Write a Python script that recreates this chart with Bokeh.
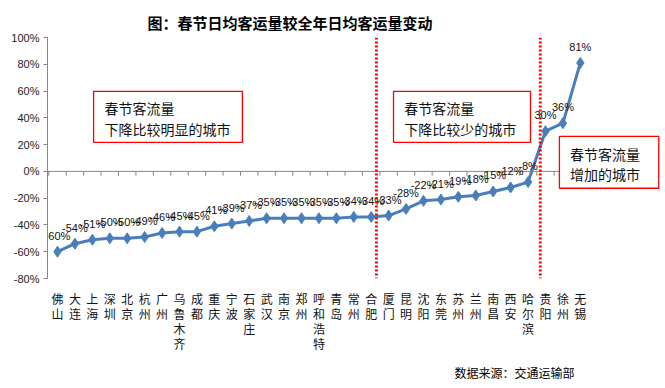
from bokeh.plotting import figure
from bokeh.models import (Range1d, FixedTicker, PrintfTickFormatter, Span, Title,
                          ColumnDataSource)
from bokeh.core.properties import value
from bokeh.embed import file_html
from bokeh.resources import INLINE

cities = ["佛山", "大连", "上海", "深圳", "北京", "杭州", "广州", "乌鲁木齐", "成都", "重庆",
          "宁波", "石家庄", "武汉", "南京", "郑州", "呼和浩特", "青岛", "常州", "合肥", "厦门",
          "昆明", "沈阳", "东莞", "苏州", "兰州", "南昌", "西安", "哈尔滨", "贵阳", "徐州", "无锡"]
changes = [-60, -54, -51, -50, -50, -49, -46, -45, -45, -41, -39, -37, -35, -35, -35, -35,
           -35, -34, -34, -33, -28, -22, -21, -19, -18, -15, -12, -8, 30, 36, 81]
y_ticks = [-80, -60, -40, -20, 0, 20, 40, 60, 80, 100]
title_text = "图：春节日均客运量较全年日均客运量变动"
source_text = "数据来源：交通运输部"
box_texts = [["春节客流量", "下降比较明显的城市"],
             ["春节客流量", "下降比较少的城市"],
             ["春节客流量", "增加的城市"]]

CJK = "Noto Sans CJK SC"
NUM = "Liberation Sans"

idx = list(range(len(cities)))
src = ColumnDataSource(dict(x=idx, y=changes, lab=[f"{v}%" for v in changes]))

p = figure(width=660, height=386, output_backend="svg", toolbar_location=None,
           x_range=Range1d(-0.574, 34.6), y_range=Range1d(-80, 100),
           min_border_left=47, min_border_right=0, min_border_top=37, min_border_bottom=103)
p.outline_line_color = None
p.xgrid.visible = False
p.ygrid.visible = False
p.background_fill_color = "white"

# title
p.title = Title(text=title_text, align="left", offset=100, text_font=CJK,
                text_font_size="15px", text_font_style="bold", text_color="#000000",
                vertical_align="top", standoff=6)

# y axis
ya = p.yaxis[0]
ya.ticker = FixedTicker(ticks=y_ticks)
ya.formatter = PrintfTickFormatter(format="%d%%")
ya.axis_line_color = "#868686"
ya.major_tick_line_color = "#868686"
ya.major_tick_in = 0
ya.major_tick_out = 4
ya.minor_tick_line_color = None
ya.major_label_text_font = NUM
ya.major_label_text_font_size = "11px"
ya.major_label_text_color = "#222222"
ya.major_label_standoff = 4

# x axis: category labels, vertical characters
xa = p.xaxis[0]
xa.ticker = FixedTicker(ticks=idx)
xa.major_label_overrides = {i: "\n".join(c) for i, c in enumerate(cities)}
xa.axis_line_color = None
xa.major_tick_line_color = None
xa.minor_tick_line_color = None
xa.major_label_text_font = CJK
xa.major_label_text_font_size = "12px"
xa.major_label_text_color = "#111111"
xa.major_label_text_line_height = 0.9
xa.major_label_standoff = 5

# source note below
p.add_layout(Title(text=source_text, align="left", offset=407, text_font=CJK,
                   text_font_size="12px", text_font_style="normal",
                   text_color="#000000", standoff=12), "below")

# zero line and category tick marks
n = len(cities)
p.segment(x0=[-0.574], x1=[n - 0.5], y0=[0], y1=[0], line_color="#868686", line_width=1)
p.segment(x0=[i - 0.5 for i in range(n + 1)], x1=[i - 0.5 for i in range(n + 1)],
          y0=[0] * (n + 1), y1=[-3.2] * (n + 1), line_color="#868686", line_width=1)

# text boxes
boxes = [(2.07, 10.61, 59.8, 21.7), (19.28, 27.14, 59.8, 21.7), (28.8, 34.5, 26.1, -12.6)]
for (l, r, t, b) in boxes:
    p.quad(left=[l], right=[r], top=[t], bottom=[b], fill_color="white",
           line_color="#FF0000", line_width=1.3)
text_pos = [(2.7, 47.3, 31.9), (19.9, 47.3, 31.9), (29.4, 13.0, -1.6)]
for (x0, y1, y2), lines in zip(text_pos, box_texts):
    p.text(x=[x0, x0], y=[y1, y2], text=lines, text_font=value(CJK),
           text_font_size="14px", text_baseline="middle", text_align="left",
           text_color="#111111")

# series
p.line("x", "y", source=src, line_color="#4A7EBB", line_width=3)
p.scatter("x", "y", source=src, marker="diamond", size=11, fill_color="#4A7EBB",
          line_color="#4A7EBB")
p.text("x", "y", text="lab", source=src, y_offset=-16, text_align="center",
       text_baseline="middle", text_font=value(NUM), text_font_size="11px",
       text_color="#111111")

# red dotted separators
for loc in [18.3, 27.7]:
    p.add_layout(Span(location=loc, dimension="height", line_color="#FF0000",
                      line_width=3, line_dash="2 2"))

open("out.html", "w").write(file_html(p, INLINE))
